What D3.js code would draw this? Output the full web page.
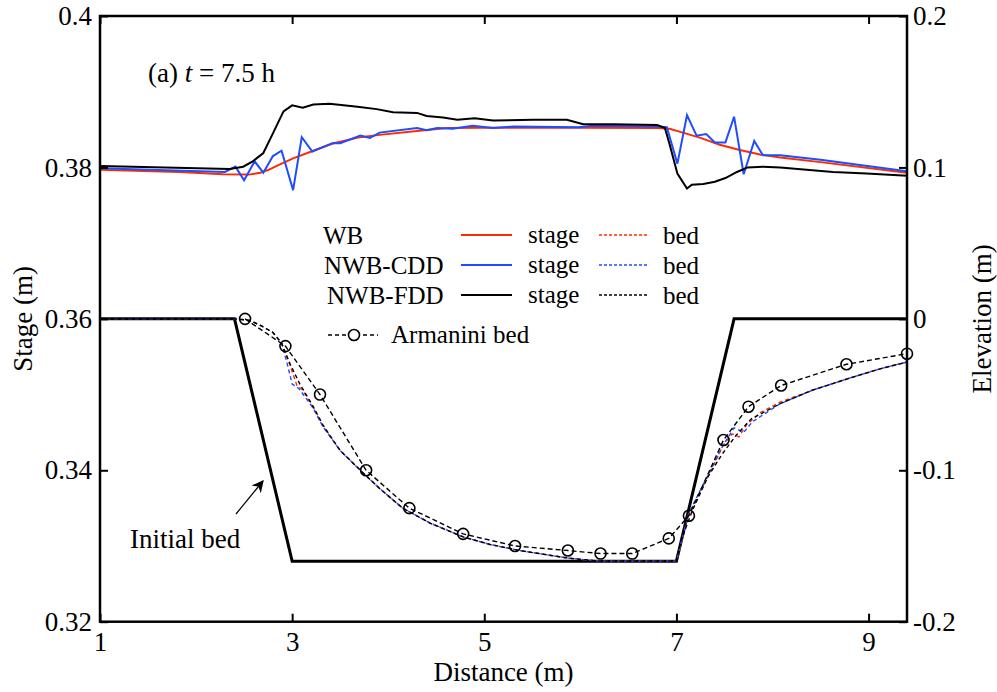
<!DOCTYPE html>
<html>
<head>
<meta charset="utf-8">
<script src="https://cdn.jsdelivr.net/npm/d3@7"></script>
<style>
  html, body { margin: 0; padding: 0; background: #fff; }
  svg { display: block; }
  svg text { font-family: "Liberation Serif", Tinos, "Times New Roman", "DejaVu Serif", serif !important; fill: #000; }
</style>
</head>
<body>
<svg id="chart" width="997" height="692"></svg>
<script>
// ---------- data ----------
const distanceTicks = [1, 3, 5, 7, 9];
const stageTicks = [0.32, 0.34, 0.36, 0.38, 0.40];
const stageTickLabels = ["0.32", "0.34", "0.36", "0.38", "0.4"];
const elevTicks = [-0.2, -0.1, 0, 0.1, 0.2];
const elevTickLabels = ["-0.2", "-0.1", "0", "0.1", "0.2"];

// stage (m), left axis
const wbStage = [[1.0,0.3797],[1.83,0.3794],[2.28,0.3791],[2.55,0.37905],[2.67,0.3793],[2.76,0.3797],[2.84,0.3802],[3.01,0.3812],[3.22,0.3822],[3.43,0.3832],[3.71,0.3840],[3.91,0.3843],[4.30,0.3848],[4.61,0.3852],[4.96,0.38525],[6.0,0.38525],[6.80,0.3852],[6.93,0.3851],[7.04,0.3847],[7.25,0.3839],[7.45,0.3830],[7.66,0.3823],[7.87,0.3817],[8.08,0.3813],[8.5,0.3807],[9.4,0.3793]];
const cddStage = [[1.0,0.3799],[2.30,0.3794],[2.41,0.3801],[2.50,0.3783],[2.61,0.3808],[2.70,0.3793],[2.80,0.3815],[2.89,0.3822],[3.01,0.3770],[3.10,0.3840],[3.21,0.3821],[3.42,0.3832],[3.50,0.3832],[3.71,0.3842],[3.81,0.3839],[3.91,0.3846],[4.30,0.3852],[4.40,0.3849],[4.51,0.3852],[4.67,0.3851],[4.88,0.3855],[5.09,0.3852],[5.30,0.3854],[5.98,0.3853],[6.13,0.3855],[6.80,0.3854],[6.90,0.3853],[7.01,0.3805],[7.11,0.3869],[7.21,0.3842],[7.31,0.3844],[7.40,0.3833],[7.51,0.3833],[7.60,0.3867],[7.70,0.3791],[7.81,0.3835],[7.90,0.3816],[8.08,0.3816],[8.50,0.3810],[9.40,0.3795]];
const fddStage = [[1.0,0.3802],[2.35,0.3798],[2.49,0.3801],[2.59,0.3808],[2.70,0.3819],[2.80,0.3845],[2.91,0.3874],[3.00,0.3882],[3.11,0.3879],[3.22,0.3883],[3.39,0.3884],[3.68,0.3880],[3.88,0.3877],[4.05,0.3873],[4.30,0.3872],[4.40,0.3868],[4.57,0.3866],[4.72,0.3863],[4.90,0.3865],[5.09,0.3862],[5.51,0.3863],[5.86,0.3863],[6.03,0.3857],[6.34,0.3857],[6.80,0.3856],[6.88,0.3852],[6.93,0.3830],[7.01,0.3792],[7.11,0.3772],[7.16,0.3777],[7.28,0.3778],[7.40,0.3781],[7.51,0.3786],[7.63,0.3794],[7.74,0.3800],[7.90,0.3801],[8.08,0.3800],[8.63,0.3794],[8.98,0.3792],[9.40,0.3789]];

// bed elevation (m), right axis
const initialBed = [[1,0],[2.4,0],[3,-0.16],[7,-0.16],[7.6,0],[9.4,0]];
const wbBed = [[1.0,0],[2.4,0],[2.56,-0.001],[2.69,-0.005],[2.80,-0.009],[2.89,-0.016],[2.98,-0.031],[3.05,-0.044],[3.11,-0.047],[3.22,-0.059],[3.32,-0.071],[3.50,-0.087],[3.71,-0.100],[3.91,-0.112],[4.15,-0.125],[4.44,-0.135],[4.78,-0.144],[5.06,-0.149],[5.37,-0.153],[5.87,-0.158],[6.2,-0.16],[7.0,-0.16],[7.13,-0.129],[7.21,-0.119],[7.37,-0.099],[7.49,-0.083],[7.58,-0.076],[7.65,-0.078],[7.73,-0.070],[7.87,-0.062],[8.08,-0.055],[8.42,-0.047],[8.81,-0.039],[9.12,-0.033],[9.4,-0.0285]];
const cddBed = [[1.0,0],[2.4,0],[2.56,-0.001],[2.69,-0.005],[2.80,-0.009],[2.89,-0.016],[2.95,-0.030],[3.00,-0.043],[3.07,-0.046],[3.22,-0.059],[3.32,-0.071],[3.50,-0.087],[3.71,-0.100],[3.91,-0.112],[4.15,-0.125],[4.44,-0.135],[4.78,-0.144],[5.06,-0.149],[5.37,-0.153],[5.87,-0.158],[6.2,-0.16],[7.0,-0.16],[7.13,-0.128],[7.21,-0.118],[7.37,-0.098],[7.49,-0.083],[7.60,-0.072],[7.70,-0.075],[7.79,-0.068],[8.08,-0.056],[8.42,-0.047],[8.81,-0.039],[9.12,-0.033],[9.4,-0.0285]];
const fddBed = [[1.0,0],[2.4,0],[2.56,-0.001],[2.69,-0.005],[2.80,-0.009],[2.89,-0.016],[2.98,-0.030],[3.08,-0.043],[3.22,-0.058],[3.32,-0.070],[3.50,-0.087],[3.71,-0.100],[3.91,-0.112],[4.15,-0.125],[4.44,-0.135],[4.78,-0.144],[5.06,-0.149],[5.37,-0.153],[5.87,-0.158],[6.2,-0.16],[7.0,-0.16],[7.05,-0.146],[7.17,-0.126],[7.33,-0.104],[7.48,-0.089],[7.62,-0.077],[7.78,-0.066],[8.08,-0.056],[8.42,-0.047],[8.81,-0.039],[9.12,-0.033],[9.4,-0.0285]];
const armaniniBed = [[2.51,0],[2.93,-0.018],[3.29,-0.050],[3.77,-0.100],[4.22,-0.125],[4.78,-0.142],[5.32,-0.150],[5.87,-0.153],[6.21,-0.155],[6.54,-0.155],[6.92,-0.145],[7.13,-0.130],[7.49,-0.080],[7.75,-0.058],[8.09,-0.044],[8.77,-0.030],[9.40,-0.023]];

// ---------- layout ----------
const W = 997, H = 692;
const m = {left: 100, right: 90, top: 16, bottom: 70.3};
const pw = W - m.left - m.right, ph = H - m.top - m.bottom;
const RED = "#ff2a00", BLUE = "#1f4cff", BLACK = "#000";
const FONT = "27px";
const SERIF = '"Liberation Serif", Tinos, "Times New Roman", "DejaVu Serif", serif';

const svg = d3.select("#chart");
const g = svg.append("g").attr("transform", `translate(${m.left},${m.top})`);

const x = d3.scaleLinear().domain([1, 9.4]).range([0, pw]);
const yS = d3.scaleLinear().domain([0.32, 0.40]).range([ph, 0]);
const yE = d3.scaleLinear().domain([-0.2, 0.2]).range([ph, 0]);

const lineS = d3.line().x(d => x(d[0])).y(d => yS(d[1]));
const lineE = d3.line().x(d => x(d[0])).y(d => yE(d[1]));

// ---------- marks ----------
g.append("path").datum(initialBed).attr("d", lineE)
  .attr("fill", "none").attr("stroke", BLACK).attr("stroke-width", 3).attr("stroke-linejoin", "miter");

const bedDash = "4,3";
[[wbBed, RED], [cddBed, BLUE], [fddBed, BLACK]].forEach(([data, c]) => {
  g.append("path").datum(data).attr("d", lineE)
    .attr("fill", "none").attr("stroke", c).attr("stroke-width", 1.4).attr("stroke-dasharray", bedDash);
});

g.append("path").datum(armaniniBed).attr("d", lineE)
  .attr("fill", "none").attr("stroke", BLACK).attr("stroke-width", 1.4).attr("stroke-dasharray", "5,3");
g.selectAll("circle.arm").data(armaniniBed).enter().append("circle")
  .attr("class", "arm").attr("cx", d => x(d[0])).attr("cy", d => yE(d[1])).attr("r", 5.5)
  .attr("fill", "none").attr("stroke", BLACK).attr("stroke-width", 1.6);

[[wbStage, RED], [cddStage, BLUE], [fddStage, BLACK]].forEach(([data, c]) => {
  g.append("path").datum(data).attr("d", lineS)
    .attr("fill", "none").attr("stroke", c).attr("stroke-width", 2).attr("stroke-linejoin", "miter");
});

// ---------- axes ----------
function styleAxis(sel) {
  sel.attr("font-family", SERIF);
  sel.select(".domain").remove();
  sel.selectAll(".tick line").attr("stroke", BLACK).attr("stroke-width", 2);
  sel.selectAll(".tick text").style("font-size", FONT);
}
const ax = g.append("g").attr("transform", `translate(0,${ph})`)
  .call(d3.axisBottom(x).tickValues(distanceTicks).tickSize(-8).tickPadding(10).tickFormat(d3.format("d")))
  .call(styleAxis);
ax.selectAll(".tick text").attr("dy", "0.71em");
g.append("g")
  .call(d3.axisTop(x).tickValues(distanceTicks).tickSize(-8).tickFormat(""))
  .call(styleAxis);
g.append("g")
  .call(d3.axisLeft(yS).tickValues(stageTicks).tickSize(-8).tickPadding(8).tickFormat((d, i) => stageTickLabels[i]))
  .call(styleAxis);
g.append("g").attr("transform", `translate(${pw},0)`)
  .call(d3.axisRight(yE).tickValues(elevTicks).tickSize(-8).tickPadding(6).tickFormat((d, i) => elevTickLabels[i]))
  .call(styleAxis);

g.append("rect").attr("x", 0).attr("y", 0).attr("width", pw).attr("height", ph)
  .attr("fill", "none").attr("stroke", BLACK).attr("stroke-width", 2.5);

// axis titles
svg.append("text").attr("x", m.left + pw / 2).attr("y", 681).attr("text-anchor", "middle")
  .style("font-size", FONT).text("Distance (m)");
svg.append("text").attr("transform", `translate(32,${m.top + yS(0.36)}) rotate(-90)`).attr("text-anchor", "middle")
  .style("font-size", FONT).text("Stage (m)");
svg.append("text").attr("transform", `translate(991,${m.top + yE(0)}) rotate(-90)`).attr("text-anchor", "middle")
  .style("font-size", FONT).text("Elevation (m)");

// panel label
const lab = svg.append("text").attr("x", 148).attr("y", 82).style("font-size", FONT);
lab.append("tspan").text("(a) ");
lab.append("tspan").attr("font-style", "italic").text("t");
lab.append("tspan").text(" = 7.5 h");

// initial bed annotation
svg.append("text").attr("x", 130).attr("y", 548).style("font-size", FONT).text("Initial bed");
svg.append("defs").append("marker").attr("id", "ah").attr("viewBox", "0 0 10 10")
  .attr("refX", 9).attr("refY", 5).attr("markerWidth", 16).attr("markerHeight", 12)
  .attr("markerUnits", "userSpaceOnUse").attr("orient", "auto")
  .append("path").attr("d", "M0,0 L10,5 L0,10 L3,5 Z").attr("fill", BLACK);
svg.append("line").attr("x1", 236).attr("y1", 514).attr("x2", 263).attr("y2", 481)
  .attr("stroke", BLACK).attr("stroke-width", 1.2).attr("marker-end", "url(#ah)");

// ---------- legend ----------
const LF = "25px";
const leg = svg.append("g");
const rows = [
  {name: "WB", c: RED, y: 244, nx: 323},
  {name: "NWB-CDD", c: BLUE, y: 274, nx: 324},
  {name: "NWB-FDD", c: BLACK, y: 304, nx: 327}
];
rows.forEach(r => {
  leg.append("text").attr("x", r.nx).attr("y", r.y).style("font-size", LF).text(r.name);
  leg.append("line").attr("x1", 461).attr("x2", 512).attr("y1", r.y - 9).attr("y2", r.y - 9)
    .attr("stroke", r.c).attr("stroke-width", 2);
  leg.append("text").attr("x", 528).attr("y", r.y - 1).style("font-size", LF).text("stage");
  leg.append("line").attr("x1", 599).attr("x2", 649).attr("y1", r.y - 9).attr("y2", r.y - 9)
    .attr("stroke", r.c).attr("stroke-width", 1.4).attr("stroke-dasharray", "3,2");
  leg.append("text").attr("x", 663).attr("y", r.y).style("font-size", LF).text("bed");
});
leg.append("line").attr("x1", 328).attr("x2", 378).attr("y1", 335).attr("y2", 335)
  .attr("stroke", BLACK).attr("stroke-width", 1.4).attr("stroke-dasharray", "4,3");
leg.append("circle").attr("cx", 354).attr("cy", 335).attr("r", 5.5)
  .attr("fill", "#fff").attr("stroke", BLACK).attr("stroke-width", 1.6);
leg.append("text").attr("x", 391).attr("y", 343).style("font-size", LF).text("Armanini bed");
</script>
</body>
</html>
